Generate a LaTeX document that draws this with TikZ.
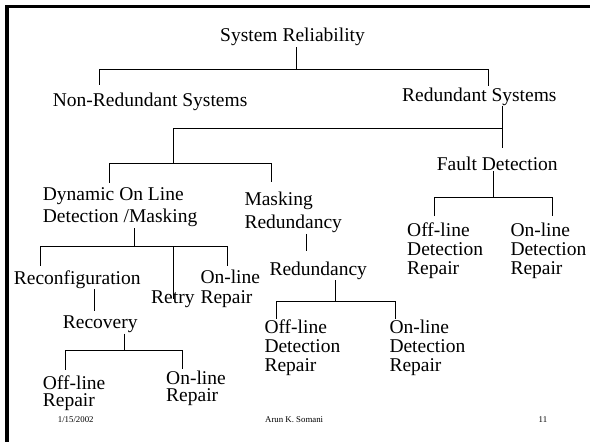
\documentclass[tikz,border=0pt]{standalone}
\usepackage{fontspec}
\setmainfont{Liberation Serif}
\begin{document}
\begin{tikzpicture}[x=1pt,y=-1pt,
  lbl/.style={anchor=base west, inner sep=1pt, align=left, font=\fontsize{19.5}{19}\selectfont},
  foot/.style={anchor=base west, inner sep=1pt, font=\fontsize{8.8}{10}\selectfont},
  link/.style={line width=0.8pt}]
  \useasboundingbox (0,0) rectangle (590,442);
  % frame
  \draw[line width=3.5pt] (7,442) -- (7,6.5) -- (590,6.5);
  % labels (multi-line ones placed at the baseline of their last line)
  \node[lbl] (sr) at (219,41.7) {System Reliability};
  \node[lbl] (nr) at (51.7,106) {Non-Redundant Systems};
  \node[lbl] (rs) at (401,101) {Redundant Systems};
  \node[lbl] (fd) at (435.7,170) {Fault Detection};
  \node[lbl,font=\fontsize{19.5}{22.7}\selectfont] (dyn) at (41.7,222.7) {Dynamic On Line\\Detection /Masking};
  \node[lbl,font=\fontsize{19.5}{23.5}\selectfont] (mask) at (243.3,228.5) {Masking\\Redundancy};
  \node[lbl] (fdoff) at (406,274) {Off-line\\Detection\\Repair};
  \node[lbl] (fdon) at (509.3,274) {On-line\\Detection\\Repair};
  \node[lbl] (recf) at (12.7,284) {Reconfiguration};
  \node[lbl] (retry) at (150,303.3) {Retry};
  \node[lbl,font=\fontsize{19.5}{20}\selectfont] (olr) at (199.3,303.3) {On-line\\Repair};
  \node[lbl] (red) at (268.3,275) {Redundancy};
  \node[lbl] (mroff) at (263.3,371.7) {Off-line\\Detection\\Repair};
  \node[lbl] (mron) at (388.3,371.7) {On-line\\Detection\\Repair};
  \node[lbl] (rec) at (61.7,328.3) {Recovery};
  \node[lbl,font=\fontsize{19.5}{17.7}\selectfont] (rcoff) at (41.7,406.7) {Off-line\\Repair};
  \node[lbl,font=\fontsize{19.5}{17.7}\selectfont] (rcon) at (165,401.7) {On-line\\Repair};
  \node[foot] (date) at (56.7,422.7) {1/15/2002};
  \node[foot] (auth) at (264,422.7) {Arun K. Somani};
  \node[foot] (pg) at (537.5,422.7) {11};
  % junctions
  \coordinate (j0) at (296.7,69.5);
  \coordinate (j0a) at (99,69.5);
  \coordinate (j0b) at (488.3,69.5);
  \coordinate (j1) at (502.7,128.3);
  \coordinate (grp) at (173.3,163.3);
  \coordinate (j2a) at (109.3,163.3);
  \coordinate (j2b) at (271.7,163.3);
  \coordinate (j3) at (493.3,197.7);
  \coordinate (j3a) at (434,197.7);
  \coordinate (j3b) at (552.3,197.7);
  \coordinate (j4) at (134,246);
  \coordinate (j4a) at (40.7,246);
  \coordinate (j4b) at (227.7,246);
  \coordinate (j4c) at (173.3,246);
  \coordinate (j5) at (306,240);
  \coordinate (j6) at (335.7,301);
  \coordinate (j6a) at (276.7,301);
  \coordinate (j6b) at (395,301);
  \coordinate (j7) at (94.3,300);
  \coordinate (j8) at (124,350);
  \coordinate (j8a) at (65,350);
  \coordinate (j8b) at (182.7,350);
  % System Reliability
  \draw[link] (sr.south -| j0) -- (j0);
  \draw[link,shorten <=6.5pt] (nr.north -| j0a) -- (j0a) -- (j0b) -- (rs.north -| j0b);
  % Redundant Systems
  \draw[link,shorten >=7pt] (rs.south -| j1) -- (fd.north -| j1);
  \draw[link] (j1) -- (j1 -| grp) -- (grp);
  \draw[link,shorten <=3pt,shorten >=8pt] (dyn.north -| j2a) -- (j2a) -- (j2b) -- (mask.north -| j2b);
  % Fault Detection
  \draw[link] (fd.south -| j3) -- (j3);
  \draw[link,shorten <=5pt,shorten >=5pt] (fdoff.north -| j3a) -- (j3a) -- (j3b) -- (fdon.north -| j3b);
  % Dynamic On Line
  \draw[link] (dyn.south -| j4) -- (j4);
  \draw[link,shorten <=3.5pt,shorten >=3pt] (recf.north -| j4a) -- (j4a) -- (j4b) -- (olr.north -| j4b);
  \draw[link] (j4c) -- (retry.center -| j4c);
  % Masking Redundancy
  \draw[link,shorten >=9pt] (mask.south -| j5) -- (red.north -| j5);
  \draw[link] (red.south -| j6) -- (j6);
  \draw[link] (mroff.north -| j6a) -- (j6a) -- (j6b) -- (mron.north -| j6b);
  % Reconfiguration
  \draw[link,shorten >=3pt] (recf.south -| j7) -- (rec.north -| j7);
  \draw[link] (rec.south -| j8) -- (j8);
  \draw[link,shorten <=4.5pt] (rcoff.north -| j8a) -- (j8a) -- (j8b) -- (rcon.north -| j8b);
\end{tikzpicture}
\end{document}
